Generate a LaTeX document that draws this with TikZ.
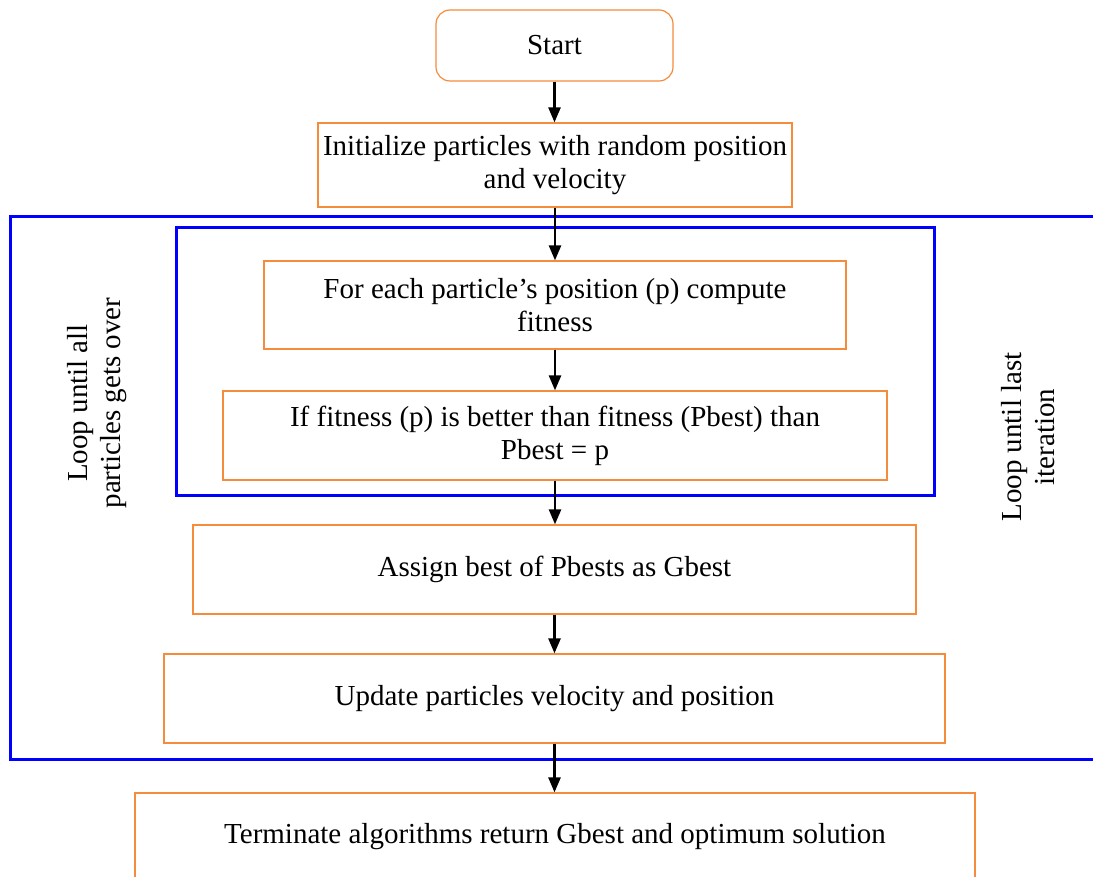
\documentclass[tikz,border=0pt]{standalone}
\usepackage{fontspec}
\setmainfont{Liberation Serif}
\usetikzlibrary{arrows.meta}
\definecolor{boxorange}{RGB}{245,140,60}

\begin{document}
\begin{tikzpicture}[x=1pt,y=-1pt,
		procbox/.style={draw=boxorange, line width=1.2pt, align=center, inner sep=0pt,
			font=\fontsize{29}{33}\selectfont},
		loopbox/.style={draw=blue, line width=3pt},
		looplabel/.style={rotate=90, align=center, font=\fontsize{29}{33}\selectfont},
		flowarrow/.style={-{Triangle[length=15pt,width=12pt]}, line width=2.5pt}]
	\useasboundingbox (0,0) rectangle (1093,877);
	\clip (0,0) rectangle (1093,877);

	% loops
	\draw[loopbox] (10,217) rectangle (1110,759);
	\draw[loopbox] (176,228) rectangle (934,495);
	\node[looplabel] (inner) at (97,403) {Loop until all\\particles gets over};
	\node[looplabel] (outer) at (1028,437) {Loop until last\\iteration};

	% steps
	\node[procbox, rounded corners=14pt, minimum width=237pt, minimum height=71pt] (start) at (554.5,45.5) {Start};
	\node[procbox, minimum width=474pt, minimum height=84pt] (init) at (555,165) {Initialize particles with random position\\and velocity};
	\node[procbox, minimum width=582pt, minimum height=88pt] (fit) at (555,305) {For each particle’s position (p) compute\\fitness};
	\node[procbox, minimum width=664pt, minimum height=89pt] (pbest) at (555,435.5) {If fitness (p) is better than fitness (Pbest) than\\Pbest = p};
	\node[procbox, minimum width=723pt, minimum height=89pt] (gbest) at (554.5,569.5) {Assign best of Pbests as Gbest};
	\node[procbox, minimum width=781pt, minimum height=89pt] (update) at (554.5,698.5) {Update particles velocity and position};
	\node[procbox, minimum width=840pt, minimum height=88pt] (stop) at (555,837) {Terminate algorithms return Gbest and optimum solution};

	% arrows
	\draw[flowarrow] (start.south) -- (start.south |- init.north);
	\draw[flowarrow] (init.south) -- (init.south |- fit.north);
	\draw[flowarrow] (fit.south) -- (fit.south |- pbest.north);
	\draw[flowarrow] (pbest.south) -- (pbest.south |- gbest.north);
	\draw[flowarrow] (gbest.south) -- (gbest.south |- update.north);
	\draw[flowarrow] (update.south) -- (update.south |- stop.north);
\end{tikzpicture}
\end{document}
